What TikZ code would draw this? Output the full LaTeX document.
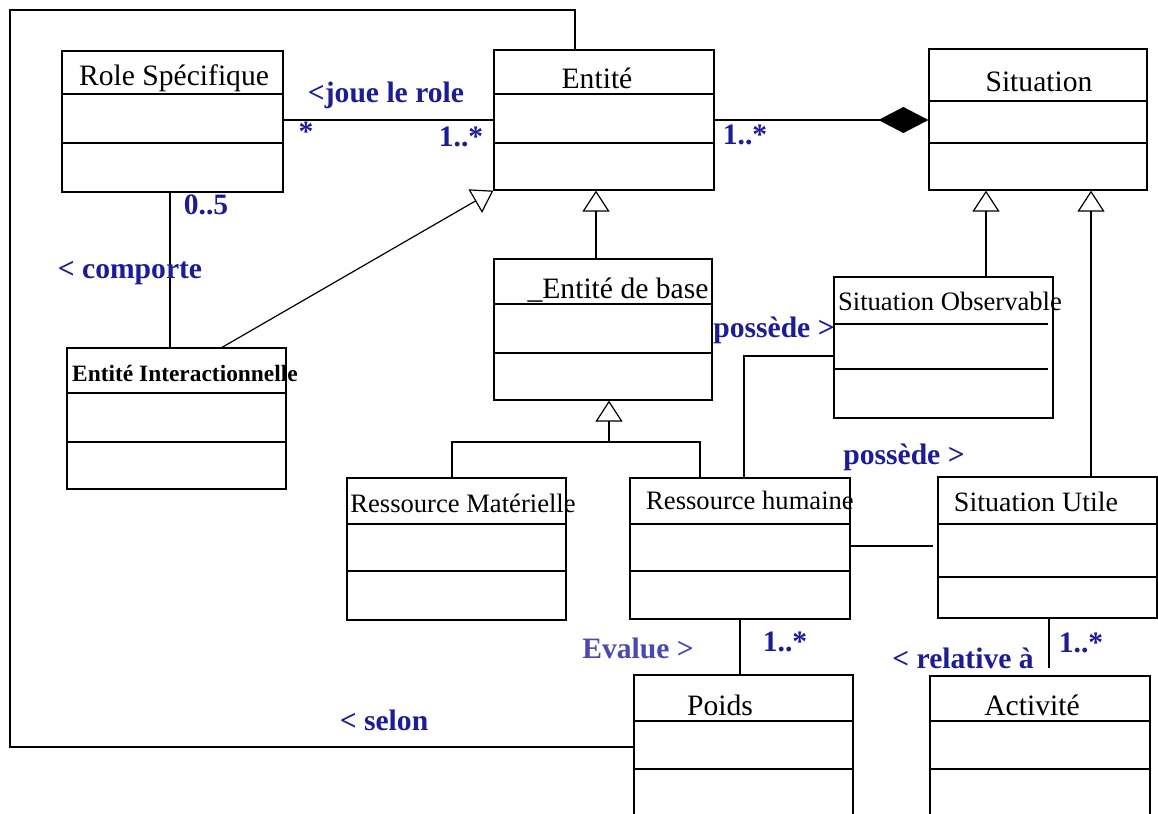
\documentclass[tikz,border=0pt]{standalone}
\usepackage{fontspec}
\setmainfont{Liberation Serif}
\usetikzlibrary{arrows.meta,fit}
\definecolor{lblue}{HTML}{1C1C96}
\definecolor{evblue}{HTML}{4A4AAE}
\tikzset{
  cls/.style={draw, inner sep=0pt, line width=0.6pt},
  divline/.style={line width=0.6pt},
  conn/.style={line width=0.6pt},
  gen/.style={conn, -{Triangle[open, length=10.5pt, width=13.5pt]}},
  comp/.style={conn, -{Diamond[length=25pt, width=13pt]}},
  title/.style={font=\fontsize{14.8}{16}\selectfont, inner sep=0pt},
  titlesm/.style={font=\fontsize{13.3}{15}\selectfont, inner sep=0pt},
  lbl/.style={font=\bfseries\fontsize{14.8}{16}\selectfont, text=lblue, inner sep=0pt},
}
\newcommand\umlbox[7]{%
  \node[cls, fit={(#2,#3) (#4,#5)}] (#1) {};
  \draw[divline] (#2,#6) -- (#4,#6);
  \draw[divline] (#2,#7) -- (#4,#7);
}
\begin{document}
\begin{tikzpicture}[x=0.5pt, y=-0.5pt]
\clip (0,0) rectangle (1158,814);
\fill[white] (0,0) rectangle (1158,814);

% classes
\umlbox{role}{62}{51}{283}{192}{94}{143}
\umlbox{entite}{494}{50}{714}{190}{94}{143}
\umlbox{situation}{929}{49}{1147}{190}{101}{143}
\umlbox{base}{494}{259}{712}{400}{304}{353}
\umlbox{ei}{67}{348}{286}{489}{393}{442}
\node[cls, fit={(834,277) (1053,418)}] (so) {};
\draw[divline] (834,324) -- (1048,324);
\draw[divline] (834,369) -- (1048,369);
\umlbox{rm}{347}{478}{566}{620}{524}{571}
\umlbox{rh}{630}{478}{850}{619}{524}{571}
\umlbox{su}{938}{477}{1157}{618}{524}{577}
\umlbox{poids}{634}{675}{853}{840}{721}{769}
\umlbox{activite}{930}{676}{1150}{840}{721}{769}

% class names
\node[title] (troletitle) at (174,78) {Role Spécifique};
\node[title] (tentite) at (597,78) {Entité};
\node[title] (tsituation) at (1039,82) {Situation};
\node[title] (tbase) at (618,290) {\_Entité de base};
\node[inner sep=0pt, font=\bfseries\fontsize{11.7}{13}\selectfont] (tei) at (185,373) {Entité Interactionnelle};
\node[titlesm] (tso) at (950,301) {Situation Observable};
\node[titlesm] (trm) at (463,503) {Ressource Matérielle};
\node[titlesm] (trh) at (750,500) {Ressource humaine};
\node[inner sep=0pt, font=\fontsize{14}{16}\selectfont] (tsu) at (1036,502) {Situation Utile};
\node[title] (tpoids) at (720,705) {Poids};
\node[title] (tactivite) at (1032,705) {Activité};

% coordinates for connector routing
\coordinate (y120) at (0,120);
\coordinate (fr1) at (575,10);
\coordinate (fr2) at (10,10);
\coordinate (fr3) at (10,747);
\coordinate (x170) at (170,0);
\coordinate (x222) at (222,0);
\coordinate (x596) at (596,0);
\coordinate (tree) at (609,442);
\coordinate (x452) at (452,0);
\coordinate (x700) at (700,0);
\coordinate (x986) at (986,0);
\coordinate (x1091) at (1091,0);
\coordinate (p1) at (744,356);
\coordinate (q1) at (933,546);
\coordinate (x740) at (740,0);
\coordinate (r1) at (1049,668);

% connectors
\draw[conn] (role.east |- y120) -- (entite.west |- y120);
\draw[comp] (entite.east |- y120) -- (situation.west |- y120);
\draw[conn] (fr1 |- entite.north) -- (fr1) -- (fr2) -- (fr3) -- (fr3 -| poids.west);
\draw[conn] (role.south -| x170) -- (x170 |- ei.north);
\draw[gen] (ei.north -| x222) -- (entite.south west);
\draw[gen] (base.north -| x596) -- (x596 |- entite.south);
\draw[gen] (tree) -- (tree |- base.south);
\draw[conn] (rm.north -| x452) -- (x452 |- tree) -- (x700 |- tree) -- (rh.north -| x700);
\draw[gen] (so.north -| x986) -- (x986 |- situation.south);
\draw[gen] (su.north -| x1091) -- (x1091 |- situation.south);
\draw[conn] (rh.north -| p1) -- (p1) -- (p1 -| so.west);
\draw[conn] (q1 -| rh.east) -- (q1);
\draw[conn] (rh.south -| x740) -- (x740 |- poids.north);
\draw[conn] (su.south -| r1) -- (r1);

% labels
\node[lbl] (ljoue) at (386,95) {<joue le role};
\node[lbl] (lstar) at (306,132) {*};
\node[lbl] (lm1) at (461,137) {1..*};
\node[lbl] (lm2) at (745,135) {1..*};
\node[lbl] (l05) at (206,205) {0..5};
\node[lbl] (lcomporte) at (130,273) {< comporte};
\node[lbl] (lpossede1) at (774,330) {possède >};
\node[lbl] (lpossede2) at (904,457) {possède >};
\node[lbl, text=evblue] (levalue) at (638,648) {Evalue >};
\node[lbl] (lm3) at (785,642) {1..*};
\node[lbl] (lrelative) at (963,658) {< relative à};
\node[lbl] (lm4) at (1081,643) {1..*};
\node[lbl] (lselon) at (384,720) {< selon};
\end{tikzpicture}
\end{document}
